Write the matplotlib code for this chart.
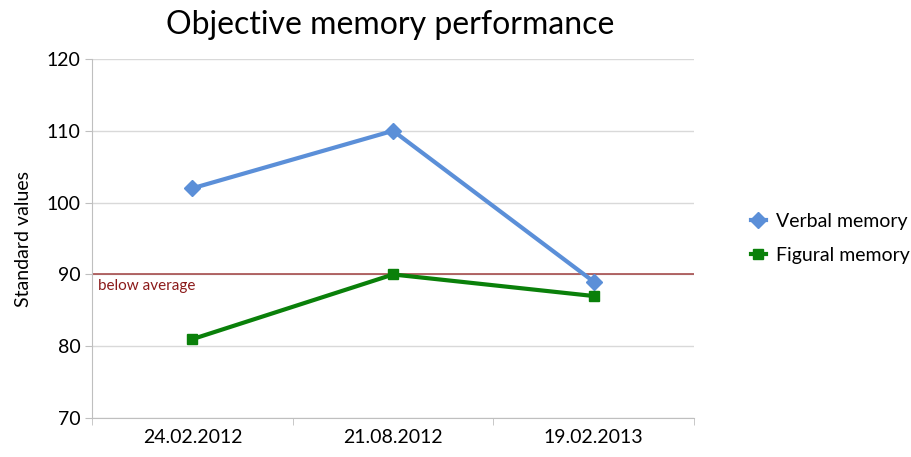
import matplotlib
matplotlib.use("Agg")
import matplotlib.pyplot as plt
import numpy as np

plt.rcParams['font.family'] = ['Lato', 'DejaVu Sans']

dates = ["24.02.2012", "21.08.2012", "19.02.2013"]
verbal = [102, 110, 89]
figural = [81, 90, 87]
threshold = 90

fig = plt.figure(figsize=(9.12, 4.57), dpi=100)
ax = fig.add_axes([0.101, 0.085, 0.66, 0.786])

x = np.arange(len(dates))
ax.set_xlim(-0.5, len(dates) - 0.5)
ax.set_ylim(70, 120)
ax.set_yticks(range(70, 121, 10))
ax.yaxis.grid(True, color="#d9d9d9", linewidth=1)
ax.set_axisbelow(True)

ax.axhline(threshold, color="#a04040", linewidth=1.1, zorder=2)
ax.text(-0.47, threshold - 0.6, "below average", color="#8b1a1a",
        fontsize=11, va="top", ha="left")

ax.plot(x, verbal, color="#5b8fd8", linewidth=3, marker="D", markersize=8,
        label="Verbal memory", zorder=3)
ax.plot(x, figural, color="#0a800a", linewidth=3, marker="s", markersize=7,
        label="Figural memory", zorder=3)

ax.set_xticks(x)
ax.set_xticklabels(dates, fontsize=14)
ax.set_xticks(np.arange(-0.5, len(dates), 1), minor=True)
ax.tick_params(axis="x", which="major", length=0, pad=8)
ax.tick_params(axis="x", which="minor", length=5, color="#bfbfbf")
ax.tick_params(axis="y", length=5, color="#bfbfbf", labelsize=14)

for s in ["top", "right"]:
    ax.spines[s].set_visible(False)
for s in ["left", "bottom"]:
    ax.spines[s].set_color("#bfbfbf")

ax.set_ylabel("Standard values", fontsize=14, labelpad=10)
fig.text(0.428, 0.945, "Objective memory performance", ha="center",
         va="center", fontsize=23)

ax.legend(loc="center left", bbox_to_anchor=(1.065, 0.5), frameon=False,
          fontsize=14, handlelength=0.8, handletextpad=0.5, labelspacing=0.85)

fig.savefig("out.png", dpi=100)
